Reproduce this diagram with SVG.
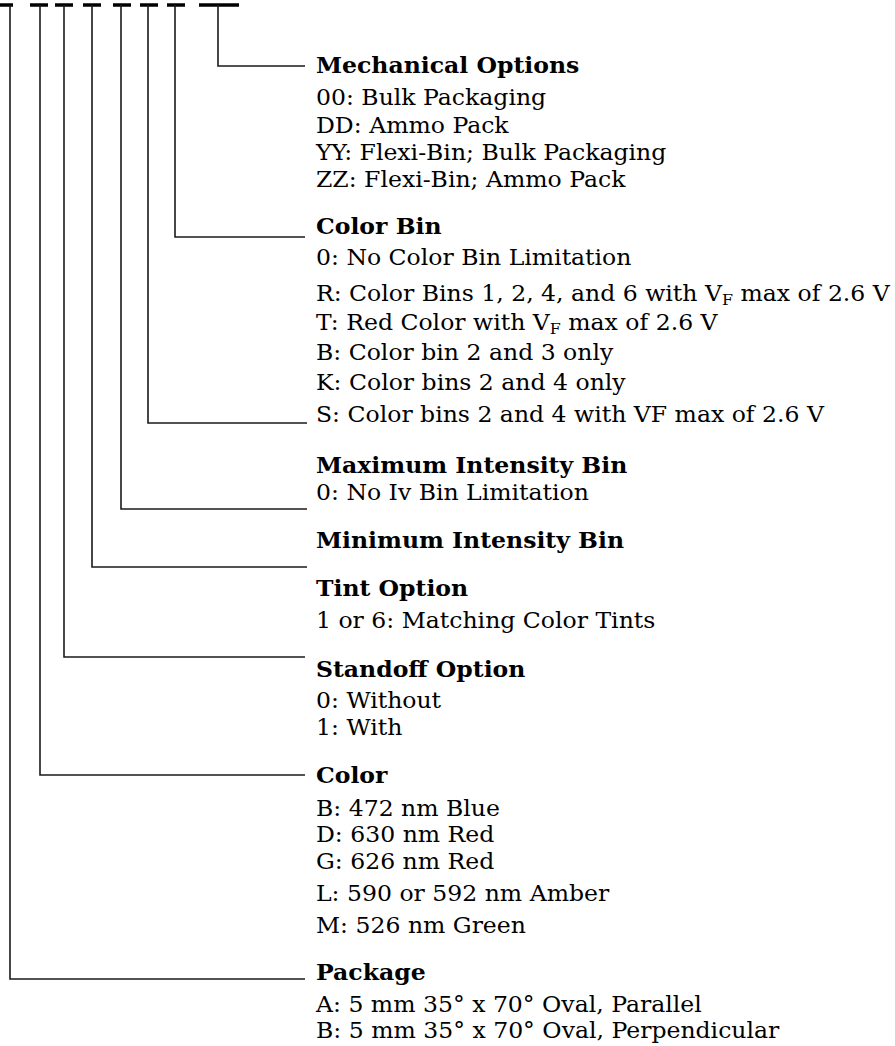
<svg xmlns="http://www.w3.org/2000/svg" width="895" height="1046" viewBox="0 0 895 1046">
<style>
text{font-family:"DejaVu Serif","Liberation Serif",serif;font-size:21.5px;fill:#000}
.h{font-weight:bold}
.ln{stroke:#1a1a1a;stroke-width:1.6;fill:none}
.dash{stroke:#000;stroke-width:3.5}
.sub{font-size:14.5px}
</style>
<rect width="895" height="1046" fill="#fff"/>
<g id="code-template">
<line class="dash" x1="0" y1="5" x2="13" y2="5"/>
<line class="dash" x1="30" y1="5" x2="48" y2="5"/>
<line class="dash" x1="55" y1="5" x2="73" y2="5"/>
<line class="dash" x1="83" y1="5" x2="101" y2="5"/>
<line class="dash" x1="113" y1="5" x2="131" y2="5"/>
<line class="dash" x1="140" y1="5" x2="158" y2="5"/>
<line class="dash" x1="167" y1="5" x2="185" y2="5"/>
<line class="dash" x1="199" y1="5" x2="239" y2="5"/>
</g>
<g id="connectors">
<polyline class="ln" points="218,5 218,66 305,66"/>
<polyline class="ln" points="175,5 175,237 305,237"/>
<polyline class="ln" points="148,5 148,423 307,423"/>
<polyline class="ln" points="121,5 121,509 307,509"/>
<polyline class="ln" points="92,5 92,567 307,567"/>
<polyline class="ln" points="64,5 64,657 305,657"/>
<polyline class="ln" points="40,5 40,775 305,775"/>
<polyline class="ln" points="10,5 10,979 305,979"/>
</g>
<g id="mechanical-options" transform="translate(316 0) scale(1.095 1)">
<text class="h" x="0" y="73">Mechanical Options</text>
<text x="0" y="105">00: Bulk Packaging</text>
<text x="0" y="133">DD: Ammo Pack</text>
<text x="0" y="160">YY: Flexi-Bin; Bulk Packaging</text>
<text x="0" y="187">ZZ: Flexi-Bin; Ammo Pack</text>
</g>
<g id="color-bin" transform="translate(316 0) scale(1.095 1)">
<text class="h" x="0" y="234">Color Bin</text>
<text x="0" y="265">0: No Color Bin Limitation</text>
<text x="0" y="301">R: Color Bins 1, 2, 4, and 6 with V<tspan class="sub" dy="4">F</tspan><tspan dy="-4"> max of 2.6 V</tspan></text>
<text x="0" y="330">T: Red Color with V<tspan class="sub" dy="4">F</tspan><tspan dy="-4"> max of 2.6 V</tspan></text>
<text x="0" y="360">B: Color bin 2 and 3 only</text>
<text x="0" y="390">K: Color bins 2 and 4 only</text>
<text x="0" y="422">S: Color bins 2 and 4 with VF max of 2.6 V</text>
</g>
<g id="maximum-intensity-bin" transform="translate(316 0) scale(1.095 1)">
<text class="h" x="0" y="473">Maximum Intensity Bin</text>
<text x="0" y="500">0: No Iv Bin Limitation</text>
</g>
<g id="minimum-intensity-bin" transform="translate(316 0) scale(1.095 1)">
<text class="h" x="0" y="548">Minimum Intensity Bin</text>
</g>
<g id="tint-option" transform="translate(316 0) scale(1.095 1)">
<text class="h" x="0" y="596">Tint Option</text>
<text x="0" y="628">1 or 6: Matching Color Tints</text>
</g>
<g id="standoff-option" transform="translate(316 0) scale(1.095 1)">
<text class="h" x="0" y="677">Standoff Option</text>
<text x="0" y="708">0: Without</text>
<text x="0" y="735">1: With</text>
</g>
<g id="color" transform="translate(316 0) scale(1.095 1)">
<text class="h" x="0" y="783">Color</text>
<text x="0" y="816">B: 472 nm Blue</text>
<text x="0" y="842">D: 630 nm Red</text>
<text x="0" y="869">G: 626 nm Red</text>
<text x="0" y="901">L: 590 or 592 nm Amber</text>
<text x="0" y="933">M: 526 nm Green</text>
</g>
<g id="package" transform="translate(316 0) scale(1.095 1)">
<text class="h" x="0" y="980">Package</text>
<text x="0" y="1012">A: 5 mm 35° x 70° Oval, Parallel</text>
<text x="0" y="1038">B: 5 mm 35° x 70° Oval, Perpendicular</text>
</g>
</svg>
